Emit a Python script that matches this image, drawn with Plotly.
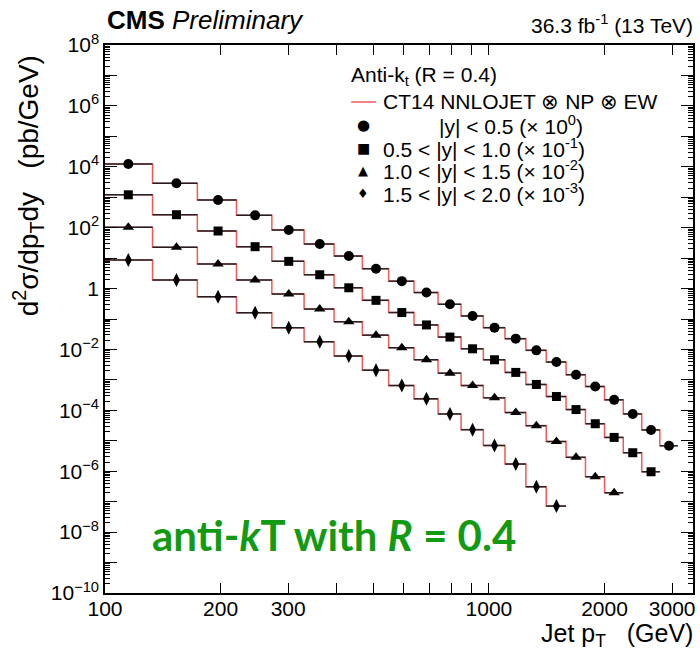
import plotly.graph_objects as go
import numpy as np

# ---------------- data ----------------
bin_edges = [97, 133, 174, 220, 272, 330, 395, 468, 548, 638, 737, 846, 967,
             1101, 1248, 1410, 1588, 1784, 2000, 2238, 2500, 2787, 3103]

# measured cross sections (pb/GeV), before the display scale factor
xsec_y00_05 = [12300, 2860, 809, 254, 83.6, 29.0, 11.7, 4.49, 1.75, 0.740, 0.305,
               0.126, 0.0520, 0.0226, 0.00933, 0.00385, 0.00148, 6.05e-4, 2.21e-4,
               7.62e-5, 2.27e-5, 6.87e-6]
xsec_y05_10 = [12000, 2660, 776, 237, 78.3, 28.4, 10.6, 4.10, 1.63, 0.638, 0.255,
               0.105, 0.0458, 0.0176, 0.00708, 0.00284, 0.00106, 3.63e-4, 1.29e-4,
               4.05e-5, 9.6e-6]
xsec_y10_15 = [10260, 2260, 638, 190.5, 66.8, 21.2, 8.13, 2.95, 1.138, 0.458, 0.1667,
               0.0652, 0.0257, 0.00845, 0.00314, 9.44e-4, 2.85e-4, 6.58e-5, 1.96e-5]
xsec_y15_20 = [8650, 1905, 540, 160.7, 51.6, 17.9, 6.07, 2.09, 0.652, 0.238, 0.076,
               0.0232, 0.0070, 0.00172, 3.09e-4, 7.16e-5]

# theory prediction (CT14 NNLOJET x NP x EW) follows the data closely
theory_y00_05 = list(xsec_y00_05)
theory_y05_10 = list(xsec_y05_10)
theory_y10_15 = list(xsec_y10_15)
theory_y15_20 = list(xsec_y15_20)

scale_factors = [1.0, 0.1, 0.01, 0.001]
rapidity_labels = ["|y| &lt; 0.5", "0.5 &lt; |y| &lt; 1.0",
                   "1.0 &lt; |y| &lt; 1.5", "1.5 &lt; |y| &lt; 2.0"]
scale_labels = ["10<sup>0</sup>", "10<sup>-1</sup>", "10<sup>-2</sup>", "10<sup>-3</sup>"]

x_tick_vals = [100, 200, 300, 1000, 2000, 3000]
x_tick_text = ["100", "200", "300", "1000", "2000", "3000"]
x_minor_vals = [400, 500, 600, 700, 800, 900]
y_label_decades = [-10, -8, -6, -4, -2, 0, 2, 4, 6, 8]
y_other_decades = [-9, -7, -5, -3, -1, 1, 3, 5, 7]

# ---------------- styling ----------------
FONT = "Liberation Sans, Arial, Helvetica, sans-serif"
RED = "#f05a5a"
symbols = ["circle", "square", "triangle-up", "diamond-tall"]
sizes = [10, 9, 10, 10]
glyphs = ["\u25CF", "\u25A0", "\u25B2", "\u2666"]
glyph_sizes = [15, 14, 13, 13]

data_sets = [xsec_y00_05, xsec_y05_10, xsec_y10_15, xsec_y15_20]
theory_sets = [theory_y00_05, theory_y05_10, theory_y10_15, theory_y15_20]

fig = go.Figure()
edges = np.array(bin_edges, dtype=float)

# theory step histograms (underneath, on y)
for th, sc in zip(theory_sets, scale_factors):
    n = len(th)
    v = np.array(th) * sc
    xs = list(edges[:n]) + [edges[n]]
    ys = list(v) + [v[-1]]
    fig.add_trace(go.Scatter(x=xs, y=ys, mode="lines", line=dict(color=RED, width=1.5, shape="hv"),
                             showlegend=False, hoverinfo="skip", yaxis="y"))

# data points with bin-width horizontal bars (on top, on overlaid y2)
for vals, sc, sym, sz in zip(data_sets, scale_factors, symbols, sizes):
    n = len(vals)
    lo = edges[:n]
    hi = edges[1:n + 1]
    c = 0.5 * (lo + hi)
    v = np.array(vals) * sc
    fig.add_trace(go.Scatter(
        x=c, y=v, mode="markers", yaxis="y2",
        marker=dict(symbol=sym, size=sz, color="black", line=dict(width=0)),
        error_x=dict(type="data", symmetric=False, array=hi - c, arrayminus=c - lo,
                     width=0, thickness=1.5, color="#222222"),
        showlegend=False))

def ylab(d):
    if d == 0:
        return "1"
    return "10<sup>" + (str(d) if d > 0 else "\u2212" + str(-d)) + "</sup>"

y_tick_vals = [10.0 ** d for d in y_label_decades]
y_tick_text = [ylab(d) for d in y_label_decades]
y2_tick_vals = [10.0 ** d for d in y_other_decades]
y_minor_vals = [k * 10.0 ** d for d in range(-10, 8) for k in range(2, 10)]

L, R, T, B = 105, 5, 45, 60
W, H = 700, 653
PW, PH = W - L - R, H - T - B

def px(xp):
    return (xp - L) / PW

def py(yp):
    return (H - B - yp) / PH

fig.update_layout(
    width=W, height=H,
    margin=dict(l=L, r=R, t=T, b=B),
    paper_bgcolor="white", plot_bgcolor="white",
    font=dict(family=FONT, color="black", size=21),
    xaxis=dict(type="log", range=[2, np.log10(3400)],
               tickmode="array", tickvals=x_tick_vals, ticktext=x_tick_text,
               ticks="inside", ticklen=10, tickwidth=1, tickcolor="black",
               ticklabelstandoff=-4,
               minor=dict(tickmode="array", tickvals=x_minor_vals, ticks="inside",
                          ticklen=6, tickcolor="black", showgrid=False),
               showline=True, linecolor="black", linewidth=1.5, mirror="allticks",
               showgrid=False, zeroline=False, tickfont=dict(size=21)),
    yaxis=dict(type="log", range=[-10, 8],
               tickmode="array", tickvals=y_tick_vals, ticktext=y_tick_text,
               ticks="inside", ticklen=12, tickwidth=1, tickcolor="black",
               minor=dict(tickmode="array", tickvals=y_minor_vals, ticks="inside",
                          ticklen=5, tickcolor="black", showgrid=False),
               showline=True, linecolor="black", linewidth=1.5, mirror="allticks",
               showgrid=False, zeroline=False, tickfont=dict(size=21)),
    yaxis2=dict(type="log", range=[-10, 8], overlaying="y", side="left", anchor="x",
                tickmode="array", tickvals=y2_tick_vals, showticklabels=False,
                ticks="inside", ticklen=12, tickwidth=1, tickcolor="black",
                showline=False, mirror="allticks", showgrid=False, zeroline=False),
)

ann = []
# header texts
ann.append(dict(text="<b>CMS</b> <i>Preliminary</i>", x=0, y=py(20), xref="paper", yref="paper",
                xanchor="left", yanchor="middle", showarrow=False, font=dict(size=26)))
ann.append(dict(text="36.3 fb<sup>-1</sup> (13 TeV)", x=px(697), y=py(24), xref="paper", yref="paper",
                xanchor="right", yanchor="middle", showarrow=False, font=dict(size=21)))
# axis titles
ann.append(dict(text="d<sup>2</sup>\u03c3/dp<sub>T</sub>dy\u00a0\u00a0\u00a0(pb/GeV)", x=px(28), y=py(186),
                xref="paper", yref="paper", xanchor="center", yanchor="middle", textangle=-90,
                showarrow=False, font=dict(size=28)))
ann.append(dict(text="Jet p<sub>T</sub>\u00a0\u00a0\u00a0(GeV)", x=px(697), y=py(635),
                xref="paper", yref="paper", xanchor="right", yanchor="middle",
                showarrow=False, font=dict(size=25)))
# legend (manual, ROOT style)
ann.append(dict(text="Anti-k<sub>t</sub> (R = 0.4)", x=px(350), y=py(76), xref="paper", yref="paper",
                xanchor="left", yanchor="middle", showarrow=False, font=dict(size=21)))
ann.append(dict(text="CT14 NNLOJET \u2297 NP \u2297 EW", x=px(382), y=py(102), xref="paper", yref="paper",
                xanchor="left", yanchor="middle", showarrow=False, font=dict(size=21)))
row_y = [125, 148, 170, 193]
row_x = [438, 382, 382, 382]
for i in range(4):
    ann.append(dict(text=glyphs[i], x=px(364), y=py(row_y[i]), xref="paper", yref="paper",
                    xanchor="center", yanchor="middle", showarrow=False,
                    font=dict(size=glyph_sizes[i], family="DejaVu Sans")))
    ann.append(dict(text=rapidity_labels[i] + " (\u00d7 " + scale_labels[i] + ")",
                    x=px(row_x[i]), y=py(row_y[i]), xref="paper", yref="paper",
                    xanchor="left", yanchor="middle", showarrow=False, font=dict(size=21)))
# green overlay text
ann.append(dict(text="<b>anti-<i>k</i>T with <i>R</i> = 0.4</b>", x=px(335), y=py(535),
                xref="paper", yref="paper", xanchor="center", yanchor="middle", showarrow=False,
                font=dict(size=42, family="Lato, Open Sans, sans-serif", color="#139a13")))
fig.update_layout(annotations=ann)

fig.add_shape(type="line", xref="paper", yref="paper", x0=px(352), x1=px(377), y0=py(102), y1=py(102),
              line=dict(color=RED, width=1.5))

fig.write_html("out.html", config={"displayModeBar": False},
               post_script="document.body.style.margin='0';document.body.style.overflow='hidden';")
